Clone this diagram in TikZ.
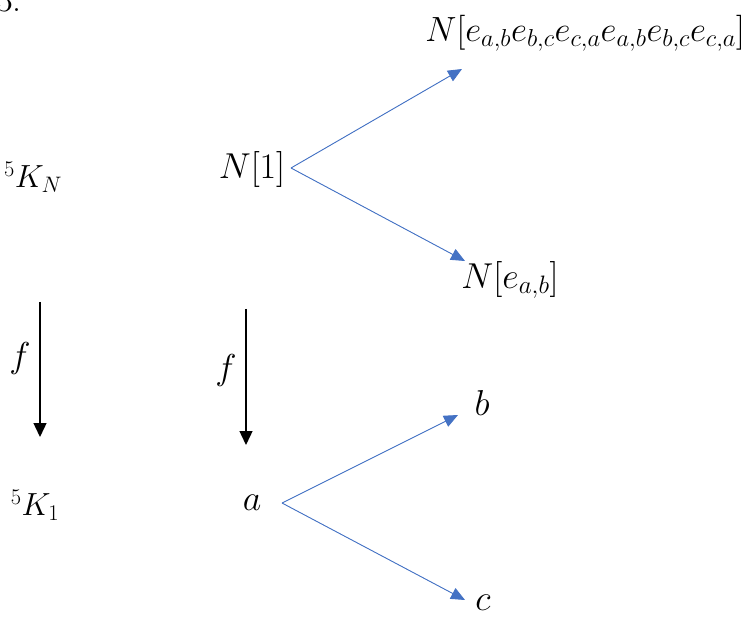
\RequirePackage{fix-cm}
\documentclass[tikz,border=0pt]{standalone}
\usetikzlibrary{arrows.meta}
\definecolor{arrblue}{RGB}{68,114,196}
\begin{document}
\begin{tikzpicture}[x=1pt,y=-1pt,
  lbl/.style={font=\fontsize{36}{42}\selectfont, inner sep=0pt},
  klbl/.style={font=\fontsize{32}{38}\selectfont, inner sep=0pt},
  bluearr/.style={draw=arrblue, line width=0.9pt, -{Triangle[length=14pt,width=12pt]}, fill=arrblue},
  blackarr/.style={draw=black, line width=1.4pt, -{Triangle[length=14pt,width=13pt]}}]
\useasboundingbox (0,0) rectangle (749,617);
% partially visible heading
\node[lbl, anchor=base east] (hd) at (22,12) {3.};
% top row
\node[lbl, font=\fontsize{35}{42}\selectfont, anchor=east] (top) at (745,33) {$N[e_{a,b}e_{b,c}e_{c,a}e_{a,b}e_{b,c}e_{c,a}]$};
\node[klbl] (kn) at (33,177) {$^5K_N$};
\node[lbl] (n1) at (252,170) {$N[1]$};
\node[lbl] (ne) at (510,280) {$N[e_{a,b}]$};
\coordinate (p1) at (291,168);
\coordinate (t1) at (462,69);
\coordinate (t2) at (465,261);
\draw[bluearr] (p1) -- (t1);
\draw[bluearr] (p1) -- (t2);
% vertical maps
\coordinate (v1s) at (40,302);
\coordinate (v1e) at (40,437);
\coordinate (v2s) at (246,309);
\coordinate (v2e) at (246,445);
\draw[blackarr] (v1s) -- (v1e);
\draw[blackarr] (v2s) -- (v2e);
\node[lbl] (f1) at (20,358) {$f$};
\node[lbl] (f2) at (226,370) {$f$};
% bottom row
\node[klbl] (k1) at (35,505) {$^5K_1$};
\node[lbl] (a) at (252,503) {$a$};
\node[lbl] (b) at (482,403) {$b$};
\node[lbl] (c) at (483,603) {$c$};
\coordinate (p2) at (282,503);
\coordinate (t3) at (458,415);
\coordinate (t4) at (465,600);
\draw[bluearr] (p2) -- (t3);
\draw[bluearr] (p2) -- (t4);
\end{tikzpicture}
\end{document}
